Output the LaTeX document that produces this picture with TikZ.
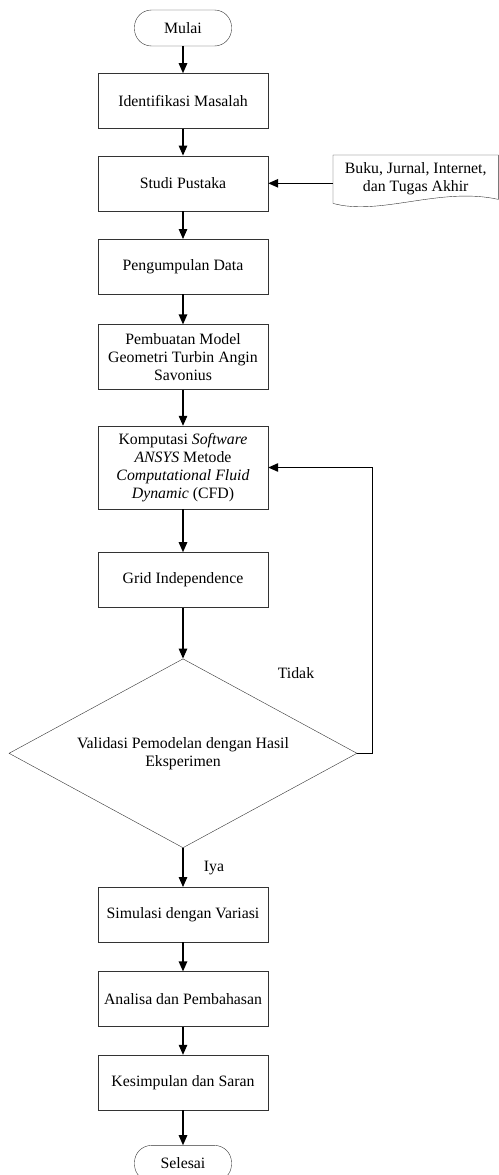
\documentclass[tikz,border=0pt]{standalone}
\usepackage{fontspec}
\setmainfont{Liberation Serif}
\usepackage{tikz}
\usetikzlibrary{arrows.meta,positioning,shapes.geometric,calc}

\begin{document}
\begin{tikzpicture}[
            x=1pt, y=1pt,
            font=\fontsize{15.8}{18}\selectfont,
            node distance=27pt,
            term/.style={draw=black!80, rounded corners=17pt,
            minimum height=36pt, minimum width=97pt, inner sep=2pt},
            proc/.style={draw=black!80, minimum height=55pt, minimum width=170pt,
            inner sep=2pt, align=center},
            dec/.style={draw=black!80, diamond, aspect=1.84, inner sep=0pt,
            minimum width=348pt, minimum height=189pt, align=center},
            lbl/.style={inner sep=1pt},
            ar/.style={-{Triangle[length=10pt,width=8.5pt]}, line width=1.2pt}
        ]
\useasboundingbox (0,0) rectangle (498,-1175);
% main vertical flow
            \node[term] at (183,-28)            (mulai) {Mulai};
            \node[proc, below=of mulai]         (ident) {Identifikasi Masalah};
            \node[proc, below=of ident]         (studi) {Studi Pustaka};
            \node[proc, below=28pt of studi]    (data)  {Pengumpulan Data};
            \node[proc, below=30pt of data, minimum height=65pt] (model)
                {Pembuatan Model\\Geometri Turbin Angin\\Savonius};
            \node[proc, below=36pt of model, minimum height=83pt] (komp)
                {Komputasi \textit{Software}\\\textit{ANSYS} Metode\\\textit{Computational Fluid}\\\textit{Dynamic} (CFD)};
            \node[proc, below=43pt of komp]     (grid)  {Grid Independence};
            \node[dec,  below=51pt of grid]     (valid) {Validasi Pemodelan dengan Hasil\\Eksperimen};
            \node[proc, below=39pt of valid]    (simul) {Simulasi dengan Variasi};
            \node[proc, below=29pt of simul]    (anal)  {Analisa dan Pembahasan};
            \node[proc, below=28pt of anal]     (kesim) {Kesimpulan dan Saran};
            \node[term, below=35pt of kesim]    (selesai) {Selesai};
% literature source
            \node[minimum width=165pt, minimum height=48pt, inner sep=0pt, align=center,
                  anchor=north west] at (333,-155) (pust) {Buku, Jurnal, Internet,\\dan Tugas Akhir};
            \draw[black!80] (pust.south west) -- (pust.north west) -- (pust.north east)
                -- ($(pust.south east)+(0,4)$)
                .. controls ($(pust.south east)+(-58,17)$) and ($(pust.south west)+(47,-13)$)
                .. (pust.south west);
% labels
            \node[lbl] at (296,-673) (tidak) {Tidak};
            \node[lbl] at (214,-868) (iya)   {Iya};

            \draw[ar] (mulai) -- (ident);
            \draw[ar] (ident) -- (studi);
            \draw[ar] (pust.west |- studi.east) -- (studi.east);
            \draw[ar] (studi) -- (data);
            \draw[ar] (data)  -- (model);
            \draw[ar] (model) -- (komp);
            \draw[ar] (komp)  -- (grid);
            \draw[ar] (grid)  -- (valid);
            \draw[ar] (valid.east) -- ++(15,0) |- (komp.east);
            \draw[ar] (valid) -- (simul);
            \draw[ar] (simul) -- (anal);
            \draw[ar] (anal)  -- (kesim);
            \draw[ar] (kesim) -- (selesai);
        \end{tikzpicture}
\end{document}
